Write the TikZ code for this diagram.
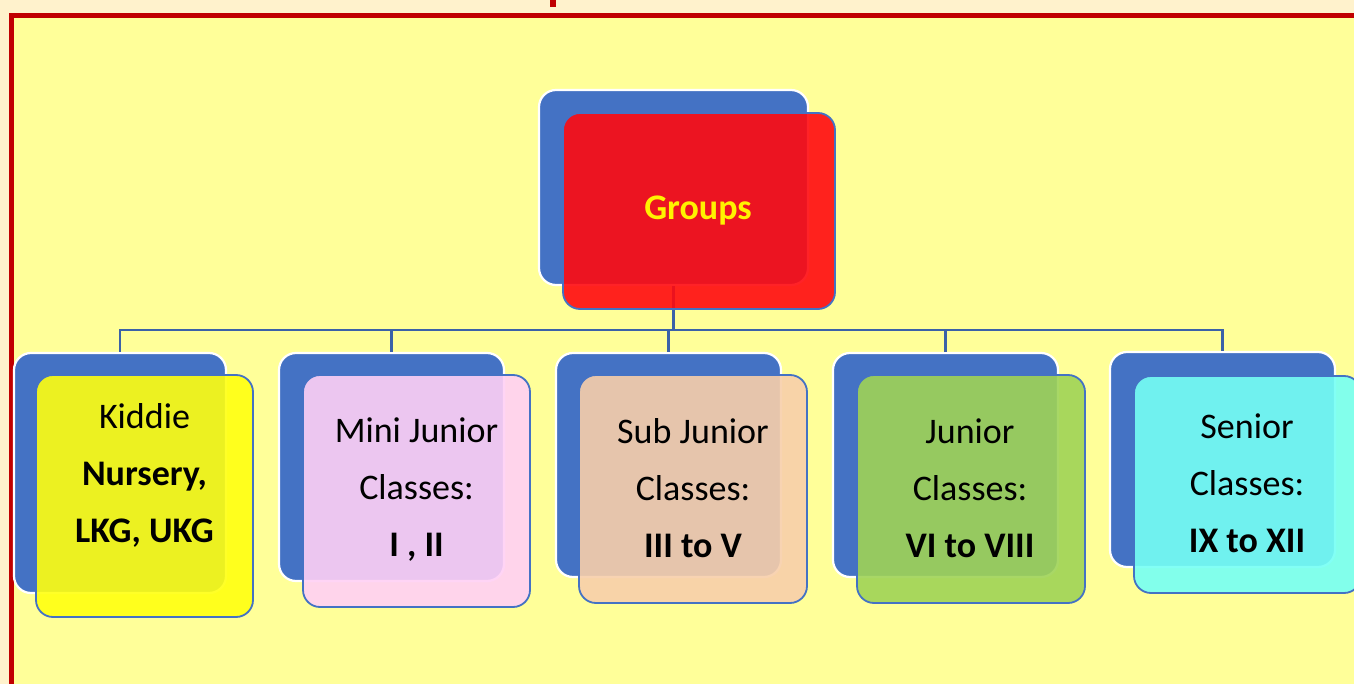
\documentclass[tikz,border=0pt]{standalone}
\usepackage{fontspec}
\setmainfont{Carlito}
\usepackage{tikz}
\usetikzlibrary{calc}

\definecolor{paneyellow}{HTML}{FFFF99}
\definecolor{pagecream}{HTML}{FFF2CC}
\definecolor{framered}{HTML}{C00000}
\definecolor{backblue}{HTML}{4472C4}
\definecolor{busblue}{HTML}{3B62A8}
\definecolor{topred}{HTML}{FF0A10}
\definecolor{kidyellow}{HTML}{FFFF10}
\definecolor{minipink}{HTML}{FFD0F5}
\definecolor{subpeach}{HTML}{F8CFAA}
\definecolor{jungreen}{HTML}{9FD356}
\definecolor{sencyan}{HTML}{75FFF4}

\tikzset{
	backbox/.style={rectangle, rounded corners=17pt, fill=backblue, draw=white,
		line width=2.2pt, inner sep=0pt},
	frontbox/.style={rectangle, rounded corners=17pt, draw=backblue, line width=1.8pt,
		fill opacity=0.9, inner sep=0pt},
	boxtext/.style={align=center, font=\fontsize{36}{57}\selectfont, text=black},
	bus/.style={draw=busblue, line width=2.4pt},
}

\begin{document}
\begin{tikzpicture}[x=1pt, y=-1pt]
	\useasboundingbox (0,0) rectangle (1354,684);
	% page and frame
	\fill[pagecream] (0,0) rectangle (1354,684);
	\fill[paneyellow] (11,15) rectangle (1354,684);
	\fill[framered] (550,0) rectangle (556,7);
	\draw[framered, line width=5pt] (11,684) -- (11,15.5) -- (1354,15.5);
	
	% back boxes
	\node[backbox, minimum width=269pt, minimum height=195pt] (groupsback) at (673.5,187.5) {};
	\node[backbox, minimum width=212pt, minimum height=240pt] (kiddieback) at (120,473) {};
	\node[backbox, minimum width=225pt, minimum height=228pt] (miniback) at (391.5,467) {};
	\node[backbox, minimum width=225pt, minimum height=224pt] (subback) at (668.5,465) {};
	\node[backbox, minimum width=225pt, minimum height=224pt] (juniorback) at (945.5,465) {};
	\node[backbox, minimum width=225pt, minimum height=215pt] (seniorback) at (1222.5,459.5) {};
	
	% connectors (under the front boxes)
	\coordinate (busleft) at ($(kiddieback.north)+(0,-22)$);
	\coordinate (busright) at (seniorback.north |- busleft);
	\draw[bus] (groupsback.south) -- (groupsback.south |- busleft);
	\draw[bus] (kiddieback.north) -- (busleft) -- (busright) -- (seniorback.north);
	\draw[bus] (miniback.north) -- (miniback.north |- busleft);
	\draw[bus] (subback.north) -- (subback.north |- busleft);
	\draw[bus] (juniorback.north) -- (juniorback.north |- busleft);
	
	% front boxes
	\node[frontbox, fill=topred, minimum width=272pt, minimum height=196pt] (groupsfront) at (699,211) {};
	\node[frontbox, fill=kidyellow, minimum width=217pt, minimum height=242pt] (kiddiefront) at (144.5,496) {};
	\node[frontbox, fill=minipink, minimum width=227pt, minimum height=232pt] (minifront) at (416.5,491) {};
	\node[frontbox, fill=subpeach, minimum width=228pt, minimum height=228pt] (subfront) at (693,489) {};
	\node[frontbox, fill=jungreen, minimum width=228pt, minimum height=228pt] (juniorfront) at (971,489) {};
	\node[frontbox, fill=sencyan, minimum width=227pt, minimum height=217pt] (seniorfront) at (1247.5,484.5) {};
	
	% texts
	\node[boxtext, text=yellow, font=\fontsize{36}{43}\selectfont\bfseries] (groups) at (698,211) {Groups};
	\node[boxtext] (kiddie) at (144.5,475) {Kiddie\\ \textbf{Nursery,}\\ \textbf{LKG, UKG}};
	\node[boxtext] (mini) at (416.5,490) {Mini Junior\\ Classes:\\ \textbf{I , II}};
	\node[boxtext] (sub) at (693,488) {Sub Junior\\ Classes:\\ \textbf{III to V}};
	\node[boxtext] (junior) at (970,488) {Junior\\ Classes:\\ \textbf{VI to VIII}};
	\node[boxtext] (senior) at (1247,483) {Senior\\ Classes:\\ \textbf{IX to XII}};
\end{tikzpicture}
\end{document}
